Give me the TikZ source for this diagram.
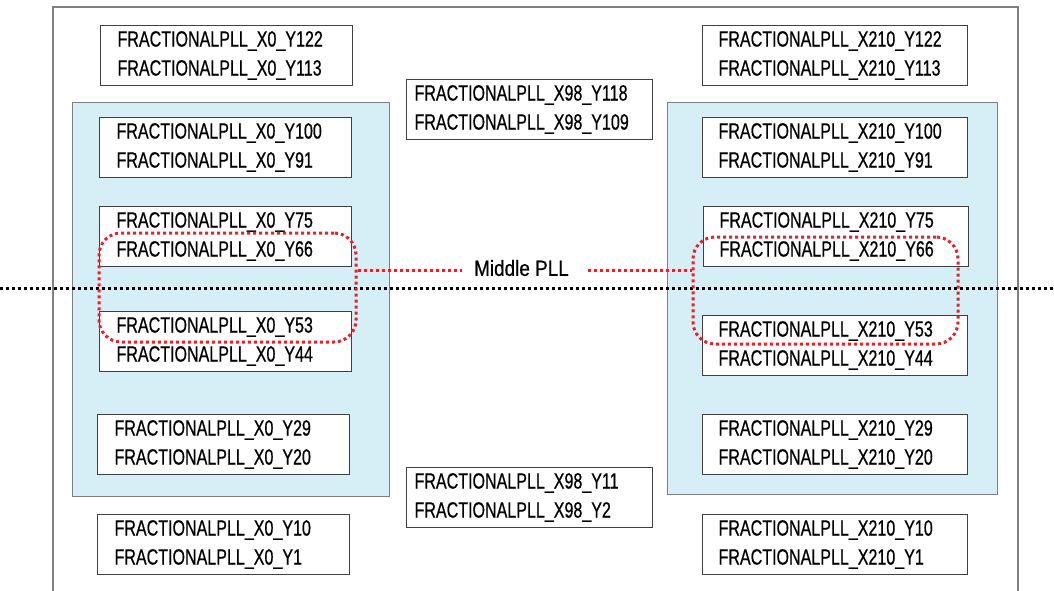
\documentclass[tikz,border=0pt]{standalone}
\usepackage{fontspec}
\setmainfont[FakeStretch=0.73,FakeBold=0.6]{Liberation Sans}
\newfontfamily\midfont[FakeStretch=0.86,FakeBold=0.6]{Liberation Sans}
\definecolor{pllblue}{HTML}{D6EEF5}
\definecolor{pllred}{HTML}{E8202A}
\definecolor{edgegray}{HTML}{7F7F7F}
\definecolor{boxgray}{HTML}{404040}
\begin{document}
\begin{tikzpicture}[x=1pt,y=-1pt,
  every node/.style={font=\fontsize{22}{29}\selectfont},
  region/.style={draw=edgegray, line width=1.2pt, fill=pllblue, anchor=north west, inner sep=0pt},
  pbox/.style={draw=boxgray, line width=1.1pt, fill=white, anchor=north west, align=left, inner ysep=0pt, minimum height=60pt},
  lbox/.style={pbox, inner xsep=17pt, text width=218pt},
  rbox/.style={pbox, inner xsep=16pt, text width=233pt},
  mbox/.style={pbox, inner xsep=8pt, text width=230pt},
  redring/.style={draw=pllred, line width=3pt, dash pattern=on 3pt off 3pt, rounded corners=22pt, inner sep=0pt},
  redline/.style={draw=pllred, line width=3pt, dash pattern=on 3pt off 3pt},
  blackline/.style={draw=black, line width=3pt, dash pattern=on 3pt off 3pt}]
\useasboundingbox (0,0) rectangle (1054,591);
% outer frame (open at the bottom)
\draw[edgegray, line width=1.4pt] (53,591) -- (53,7) -- (1018,7) -- (1018,591);
% blue regions
\node[region, minimum width=317pt, minimum height=394pt] (lreg) at (72,102) {};
\node[region, minimum width=330pt, minimum height=392pt] (rreg) at (667,102) {};
% left column
\node[lbox] (l1) at (100,25) {FRACTIONALPLL\_X0\_Y122\\FRACTIONALPLL\_X0\_Y113};
\node[lbox] (l2) at (99,117) {FRACTIONALPLL\_X0\_Y100\\FRACTIONALPLL\_X0\_Y91};
\node[lbox] (l3) at (99,206) {FRACTIONALPLL\_X0\_Y75\\FRACTIONALPLL\_X0\_Y66};
\node[lbox] (l4) at (99,311) {FRACTIONALPLL\_X0\_Y53\\FRACTIONALPLL\_X0\_Y44};
\node[lbox] (l5) at (97,414) {FRACTIONALPLL\_X0\_Y29\\FRACTIONALPLL\_X0\_Y20};
\node[lbox] (l6) at (97,514) {FRACTIONALPLL\_X0\_Y10\\FRACTIONALPLL\_X0\_Y1};
% middle column
\node[mbox] (m1) at (406,79) {FRACTIONALPLL\_X98\_Y118\\FRACTIONALPLL\_X98\_Y109};
\node[mbox] (m2) at (406,467) {FRACTIONALPLL\_X98\_Y11\\FRACTIONALPLL\_X98\_Y2};
% right column
\node[rbox] (r1) at (702,25) {FRACTIONALPLL\_X210\_Y122\\FRACTIONALPLL\_X210\_Y113};
\node[rbox] (r2) at (702,117) {FRACTIONALPLL\_X210\_Y100\\FRACTIONALPLL\_X210\_Y91};
\node[rbox] (r3) at (703,206) {FRACTIONALPLL\_X210\_Y75\\FRACTIONALPLL\_X210\_Y66};
\node[rbox] (r4) at (702,315) {FRACTIONALPLL\_X210\_Y53\\FRACTIONALPLL\_X210\_Y44};
\node[rbox] (r5) at (702,414) {FRACTIONALPLL\_X210\_Y29\\FRACTIONALPLL\_X210\_Y20};
\node[rbox] (r6) at (702,514) {FRACTIONALPLL\_X210\_Y10\\FRACTIONALPLL\_X210\_Y1};
% black dotted middle line
\coordinate (dl) at (0,288);
\coordinate (dr) at (1054,288);
\draw[blackline] (dl) -- (dr);
% red rings and label
\node[redring, minimum width=257pt, minimum height=109pt] (lring) at (227.5,287.5) {};
\node[redring, minimum width=265pt, minimum height=107pt] (rring) at (825.5,290.5) {};
\node[inner xsep=12pt, inner ysep=2pt, font=\midfont\fontsize{22}{29}\selectfont] (mid) at (521.5,268) {Middle PLL};
\draw[redline] (lring.east |- 0,270) -- (mid.west |- 0,270);
\draw[redline, shorten <=7pt] (mid.east |- 0,270) -- (rring.west |- 0,270);
\end{tikzpicture}
\end{document}
